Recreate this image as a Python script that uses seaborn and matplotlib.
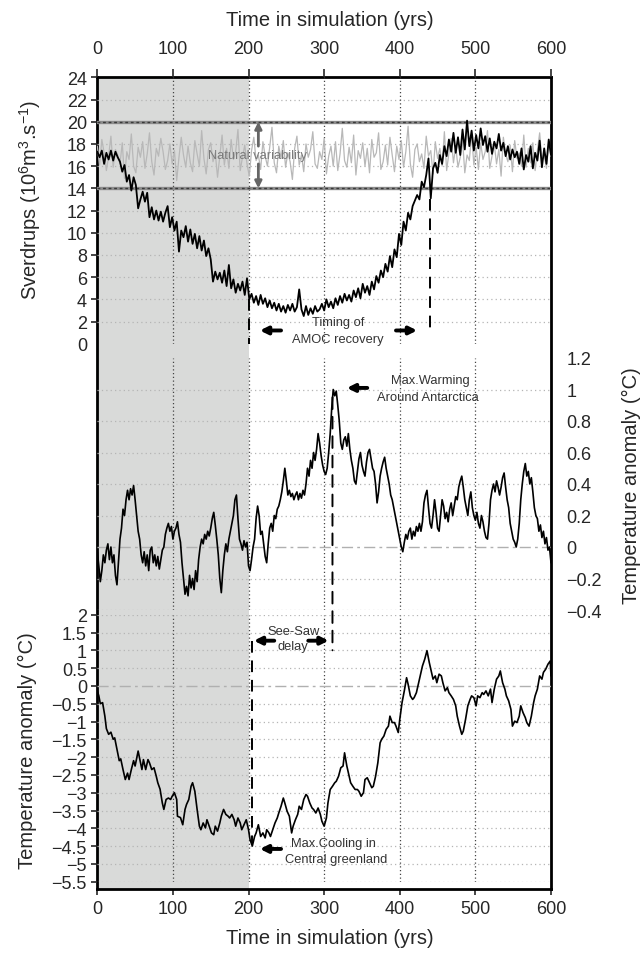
import numpy as np
import pandas as pd
import matplotlib
matplotlib.use("Agg")
import matplotlib.pyplot as plt
import seaborn as sns
from matplotlib.patches import ConnectionPatch

sns.set_style("white")
plt.rcParams['font.family'] = ['Liberation Sans', 'DejaVu Sans']
plt.rcParams['mathtext.default'] = 'regular'

# ---------------- data ----------------
x_ticks = [0, 100, 200, 300, 400, 500, 600]
grid_x = [100, 200, 300, 400, 500]

sv_ticks = [0, 2, 4, 6, 8, 10, 12, 14, 16, 18, 20, 22, 24]
ant_ticks = [-0.4, -0.2, 0, 0.2, 0.4, 0.6, 0.8, 1.0, 1.2]
ant_labels = ['\u22120.4', '\u22120.2', '0', '0.2', '0.4', '0.6', '0.8', '1', '1.2']
gr_ticks = [2, 1.5, 1, 0.5, 0, -0.5, -1, -1.5, -2, -2.5, -3, -3.5, -4, -4.5, -5, -5.5]
gr_labels = ['2', '1.5', '1', '0.5', '0', '\u22120.5', '\u22121', '\u22121.5', '\u22122', '\u22122.5',
             '\u22123', '\u22123.5', '\u22124', '\u22124.5', '\u22125', '\u22125.5']

amoc_years = np.arange(0, 601, 3)
amoc_forced = [
    17.3, 16.8, 17.4, 16.2, 17.2, 16.6, 17.4, 16.5, 17.3, 16.8,
    16.4, 15.5, 16.1, 14.6, 15.2, 13.8, 15.0, 14.3, 12.2, 13.0,
    13.7, 12.8, 13.6, 11.4, 12.3, 11.2, 12.0, 11.1, 11.9, 11.0,
    11.8, 12.4, 10.5, 11.4, 10.2, 11.0, 8.3, 10.2, 9.6, 10.6,
    9.2, 10.3, 9.0, 9.9, 8.6, 9.7, 8.4, 9.3, 7.9, 8.6,
    7.6, 5.6, 6.5, 5.8, 6.4, 5.5, 6.6, 5.2, 7.1, 5.0,
    5.8, 4.6, 5.4, 4.8, 5.6, 4.4, 5.9, 4.0, 4.5, 3.7,
    4.3, 3.5, 4.4, 3.6, 4.1, 3.3, 3.9, 3.2, 3.7, 3.0,
    3.6, 2.9, 3.4, 2.8, 3.5, 3.0, 3.6, 2.9, 3.3, 4.9,
    3.1, 2.5, 3.4, 2.6, 3.2, 2.7, 3.4, 2.9, 3.1, 3.6,
    3.0, 4.0, 3.3, 3.8, 3.2, 4.1, 3.5, 4.3, 3.7, 4.5,
    3.9, 4.4, 3.8, 4.8, 4.2, 5.0, 4.1, 5.4, 4.6, 5.2,
    4.4, 5.6, 4.9, 6.1, 5.5, 6.6, 6.0, 7.2, 6.5, 7.9,
    6.9, 8.5, 7.8, 9.9, 8.9, 11.0, 10.2, 11.8, 11.2, 12.4,
    12.9, 13.4, 13.0, 14.6, 14.1, 15.2, 16.7, 13.1, 15.8, 16.3,
    15.4, 17.0, 16.2, 17.8, 16.9, 18.4, 17.3, 19.0, 17.2, 18.6,
    17.0, 19.3, 17.5, 20.1, 17.8, 19.2, 17.4, 18.8, 17.6, 19.4,
    17.9, 18.7, 17.3, 18.5, 17.1, 18.2, 17.6, 18.9, 17.4, 18.1,
    16.9, 17.8, 16.6, 17.5, 16.8, 17.3, 16.2, 17.6, 15.7, 17.0,
    16.4, 17.8, 15.8, 17.2, 16.5, 18.3, 15.9, 17.6, 16.2, 18.4,
    17.0,
]
amoc_control = [
    17.8, 16.1, 18.4, 17.2, 15.6, 16.9, 18.7, 15.9, 17.5, 17.0,
    16.2, 18.1, 14.9, 17.3, 16.6, 18.9, 16.0, 15.4, 17.7, 16.8,
    18.2, 15.8, 17.1, 19.0, 16.4, 15.2, 17.6, 16.9, 18.5, 17.3,
    15.7, 16.5, 18.0, 16.2, 17.4, 14.7, 16.8, 18.6, 17.0, 15.9,
    17.8, 16.3, 15.5, 18.3, 17.1, 16.0, 19.2, 16.7, 15.3, 17.5,
    18.1, 16.4, 17.2, 15.0, 16.9, 18.8, 16.1, 17.6, 15.8, 18.4,
    16.6, 17.3, 19.3, 15.6, 16.8, 17.9, 16.2, 15.1, 17.4, 18.6,
    16.5, 17.0, 15.7, 18.2, 16.9, 16.0, 17.7, 19.5, 16.3, 15.4,
    17.8, 16.7, 18.3, 15.9, 17.2, 16.4, 14.8, 17.6, 18.7, 16.1,
    17.0, 15.5, 18.0, 16.8, 17.5, 19.1, 16.2, 15.8, 17.3, 16.6,
    18.5, 15.3, 16.9, 17.8, 16.0, 18.2, 15.6, 17.1, 19.4, 16.5,
    15.9, 17.7, 16.3, 18.8, 15.2, 17.4, 16.7, 18.1, 16.0, 17.6,
    15.4, 18.4, 16.8, 17.2, 19.0, 15.7, 16.4, 17.9, 16.1, 18.6,
    17.0, 15.5, 17.8, 16.6, 18.3, 15.9, 17.3, 19.6, 16.2, 15.0,
    17.5, 18.0, 16.4, 17.1, 15.8, 18.7, 16.9, 17.4, 15.3, 18.2,
    16.7, 17.6, 16.0, 19.1, 15.6, 17.2, 18.5, 16.3, 17.8, 15.9,
    16.8, 18.4, 15.4, 17.0, 16.5, 18.9, 16.1, 17.7, 15.7, 18.1,
    16.6, 17.3, 19.2, 15.8, 16.9, 18.0, 16.2, 17.5, 15.1, 18.6,
    17.1, 16.4, 17.9, 15.5, 18.3, 16.7, 17.2, 16.0, 18.8, 15.9,
    17.6, 16.3, 18.1, 15.6, 17.4, 19.0, 16.5, 17.0, 15.8, 18.2,
    16.9,
]
variability_bounds = [14, 20]

ant_years = np.arange(0, 601, 2)
antarctic_temp = [
    -0.03, -0.12, -0.22, -0.15, -0.05, -0.10, -0.02, 0.02, -0.08, 0.00,
    -0.10, -0.05, -0.18, -0.24, -0.10, 0.05, 0.12, 0.24, 0.20, 0.30,
    0.36, 0.30, 0.37, 0.33, 0.39, 0.30, 0.20, 0.10, 0.05, -0.05,
    -0.10, -0.03, -0.12, -0.05, -0.15, -0.02, 0.00, -0.10, -0.05, -0.12,
    -0.06, -0.14, -0.08, -0.02, 0.00, 0.08, 0.12, 0.15, 0.10, 0.13,
    0.05, 0.10, 0.12, 0.16, 0.08, 0.03, -0.10, -0.20, -0.30, -0.25,
    -0.31, -0.18, -0.26, -0.20, -0.27, -0.15, -0.22, -0.08, 0.00, 0.05,
    0.02, 0.08, 0.05, 0.10, 0.07, 0.12, 0.18, 0.22, 0.14, 0.05,
    -0.05, -0.20, -0.29, -0.15, -0.05, 0.02, -0.03, 0.05, 0.10, 0.15,
    0.20, 0.30, 0.33, 0.18, 0.05, 0.02, -0.02, 0.04, 0.00, 0.03,
    -0.12, -0.15, -0.08, 0.00, 0.05, 0.18, 0.26, 0.20, 0.08, 0.10,
    0.02, -0.06, -0.10, 0.02, 0.12, 0.15, 0.10, 0.20, 0.18, 0.24,
    0.26, 0.30, 0.35, 0.42, 0.50, 0.42, 0.33, 0.36, 0.32, 0.34,
    0.30, 0.33, 0.35, 0.30, 0.34, 0.31, 0.36, 0.33, 0.40, 0.50,
    0.45, 0.55, 0.50, 0.60, 0.55, 0.62, 0.72, 0.66, 0.58, 0.52,
    0.48, 0.46, 0.50, 0.60, 0.72, 0.88, 1.00, 0.96, 0.99, 0.90,
    0.80, 0.66, 0.62, 0.68, 0.70, 0.64, 0.72, 0.62, 0.55, 0.50,
    0.42, 0.40, 0.48, 0.56, 0.60, 0.52, 0.48, 0.45, 0.54, 0.60,
    0.62, 0.56, 0.50, 0.48, 0.40, 0.28, 0.35, 0.45, 0.50, 0.54,
    0.57, 0.50, 0.45, 0.40, 0.33, 0.30, 0.25, 0.20, 0.15, 0.10,
    0.05, 0.00, -0.03, 0.03, 0.08, 0.05, 0.10, 0.12, 0.05, 0.10,
    0.07, 0.13, 0.10, 0.15, 0.10, 0.16, 0.28, 0.33, 0.36, 0.25,
    0.15, 0.12, 0.20, 0.30, 0.22, 0.12, 0.10, 0.20, 0.30, 0.26,
    0.18, 0.22, 0.16, 0.24, 0.28, 0.20, 0.26, 0.32, 0.30, 0.38,
    0.42, 0.45, 0.38, 0.30, 0.25, 0.20, 0.30, 0.35, 0.25, 0.20,
    0.17, 0.22, 0.15, 0.12, 0.20, 0.16, 0.10, 0.06, 0.05, 0.15,
    0.30, 0.36, 0.40, 0.35, 0.42, 0.38, 0.33, 0.38, 0.44, 0.47,
    0.38, 0.30, 0.25, 0.15, 0.10, 0.05, 0.03, 0.00, 0.05, 0.15,
    0.30, 0.40, 0.48, 0.53, 0.45, 0.48, 0.40, 0.44, 0.35, 0.25,
    0.20, 0.18, 0.10, 0.14, 0.06, 0.10, 0.02, 0.06, -0.02, 0.00,
    -0.10,
]

gr_years = [0, 2, 4, 7, 10, 12, 15, 18, 21, 23, 26, 29, 31, 34, 37, 40, 42, 45, 48, 50,
            54, 59, 61, 64, 67, 69, 72, 75, 78, 80, 83, 86, 88, 91, 94, 97, 99, 102, 105, 106,
            110, 113, 116, 118, 121, 124, 126, 129, 132, 135, 137, 140, 143, 145, 148, 151, 154, 156, 159, 162,
            164, 167, 170, 173, 175, 178, 181, 183, 186, 189, 191, 194, 197, 200, 202, 205, 208, 210, 213, 216,
            219, 222, 224, 227, 229, 232, 235, 238, 240, 243, 246, 248, 251, 254, 257, 259, 262, 265, 267, 270,
            273, 276, 278, 281, 284, 286, 289, 292, 295, 297, 300, 303, 305, 308, 311, 314, 316, 319, 322, 325,
            327, 330, 333, 335, 338, 341, 344, 346, 349, 352, 354, 357, 360, 363, 365, 368, 371, 374, 376, 379,
            382, 385, 387, 390, 393, 395, 398, 400, 403, 406, 409, 411, 414, 417, 419, 422, 425, 428, 430, 433,
            436, 439, 441, 444, 447, 449, 452, 455, 457, 460, 463, 465, 468, 471, 474, 476, 479, 482, 484, 487,
            490, 493, 495, 498, 501, 503, 506, 509, 511, 514, 517, 520, 522, 525, 528, 531, 533, 536, 539, 541,
            544, 547, 549, 552, 555, 558, 560, 563, 566, 568, 571, 574, 577, 579, 582, 585, 588, 590, 593, 596,
            599, 600]
greenland_temp = [-0.14, -0.28, -0.50, -0.47, -0.85, -1.20, -1.36, -1.30, -1.50, -1.46, -1.78, -2.10, -2.05, -2.35, -2.63, -2.45, -2.63, -2.35, -2.10, -2.25,
                  -1.83, -2.35, -2.07, -2.35, -2.07, -2.16, -2.35, -2.30, -2.54, -2.72, -2.90, -3.29, -3.47, -3.19, -3.15, -3.19, -3.10, -3.00, -3.19, -3.66,
                  -3.70, -3.90, -3.47, -3.33, -3.19, -2.82, -2.72, -2.96, -3.47, -3.94, -4.04, -3.85, -3.99, -3.76, -3.94, -4.13, -4.18, -3.94, -4.08, -3.85,
                  -3.66, -3.47, -3.61, -3.66, -3.71, -3.61, -3.76, -3.94, -3.71, -3.85, -4.04, -3.90, -3.76, -4.04, -4.32, -4.50, -4.23, -4.13, -3.90, -4.23,
                  -4.13, -4.27, -4.04, -4.13, -4.23, -4.04, -3.85, -3.71, -3.57, -3.38, -3.15, -3.29, -3.52, -3.66, -4.13, -3.94, -3.76, -3.61, -3.38, -3.47,
                  -3.19, -3.05, -3.10, -3.29, -3.43, -3.47, -3.57, -3.43, -3.61, -3.80, -3.94, -3.71, -3.29, -2.91, -2.82, -2.72, -2.68, -2.54, -2.30, -2.25,
                  -1.88, -2.25, -2.54, -2.72, -2.82, -2.91, -2.91, -2.96, -3.10, -3.00, -2.63, -2.58, -2.72, -2.86, -2.82, -2.54, -2.16, -1.60, -1.50, -1.41,
                  -1.22, -1.13, -0.85, -1.03, -1.03, -1.13, -1.31, -0.94, -0.47, -0.14, 0.23, 0.05, -0.28, -0.38, -0.33, -0.19, 0.09, 0.38, 0.56, 0.75,
                  0.99, 0.66, 0.47, 0.19, 0.28, 0.09, 0.33, 0.28, 0.09, -0.14, -0.05, -0.19, -0.28, -0.38, -0.56, -0.85, -1.13, -1.36, -1.27, -0.94,
                  -0.56, -0.38, -0.28, -0.33, -0.56, -0.28, -0.33, -0.19, -0.24, -0.14, -0.28, -0.09, -0.47, -0.09, 0.19, 0.28, 0.42, 0.09, -0.09, -0.28,
                  -0.42, -0.66, -1.13, -0.99, -1.03, -0.85, -0.56, -0.75, -0.89, -1.03, -1.13, -0.85, -0.47, -0.28, -0.09, 0.28, 0.19, 0.38, 0.47, 0.61,
                  0.70, 0.28]

# ---------------- figure ----------------
W_PX, H_PX = 642, 954
fig = plt.figure(figsize=(W_PX / 100, H_PX / 100), dpi=100)

def fy(px):
    return 1 - px / H_PX

LEFT = 97.3 / W_PX
WIDTH = (551 - 97.3) / W_PX
FRAME_TOP, FRAME_BOT = 78.3, 890

TICK_FS = 13
LABEL_FS = 14.5
ANN_FS = 9.3
GRID_H = dict(color='#b5b5b5', lw=0.9, ls=(0, (1, 2.5)))
GRID_V = dict(color='#444444', lw=0.9, ls=(0, (1, 2)))
ZERO = dict(color='#b0b0b0', lw=1.0, ls=(0, (8, 3, 2, 3)))
VDASH = dict(color='black', lw=1.4, ls=(0, (6, 4)))
ARROW = dict(arrowstyle='-|>', color='black', lw=2.8, mutation_scale=11, shrinkA=0, shrinkB=0)

# frame axes (shading, outer spines, x ticks)
ax_f = fig.add_axes([LEFT, fy(FRAME_BOT), WIDTH, fy(FRAME_TOP) - fy(FRAME_BOT)])
ax_f.set_xlim(0, 600)
ax_f.set_ylim(0, 1)
ax_f.axvspan(0, 200, color='#d9dad9', lw=0)
ax_f.set_yticks([])
ax_f.set_xticks(x_ticks)
ax_f.set_xticklabels([str(v) for v in x_ticks])
ax_f.tick_params(axis='x', direction='out', bottom=True, length=4, width=1.2, pad=4, labelsize=TICK_FS)
for s in ax_f.spines.values():
    s.set_linewidth(2.0)
    s.set_color('black')

ax_tx = ax_f.twiny()
ax_tx.set_xlim(0, 600)
ax_tx.set_xticks(x_ticks)
ax_tx.set_xticklabels([str(v) for v in x_ticks])
ax_tx.tick_params(axis='x', direction='out', top=True, length=6, width=1.2, pad=8.5, labelsize=TICK_FS)
for s in ax_tx.spines.values():
    s.set_visible(False)


def data_ax(top_px, bot_px, ylim):
    ax = fig.add_axes([LEFT, fy(bot_px), WIDTH, fy(top_px) - fy(bot_px)])
    ax.patch.set_alpha(0)
    for s in ax.spines.values():
        s.set_visible(False)
    ax.set_xlim(0, 600)
    ax.set_ylim(*ylim)
    ax.set_xticks([])
    for gx in grid_x:
        ax.axvline(gx, zorder=0.5, **GRID_V)
    ax.set_xlabel('')
    ax.set_ylabel('')
    return ax


# ---- top: AMOC ----
ax_top = data_ax(78.3, 344.8, (0, 24))
for v in sv_ticks[1:-1]:
    ax_top.axhline(v, zorder=0.4, **GRID_H)
for b in variability_bounds:
    ax_top.axhline(b, color='#8c8c8c', lw=2.4, zorder=0.6)
    ax_top.axhline(b, color='#3a3a3a', lw=1.0, ls=(0, (2, 2)), zorder=0.7)
sns.lineplot(x=amoc_years, y=amoc_control, ax=ax_top, color='#b8b8b8', lw=0.9, zorder=1)
sns.lineplot(x=amoc_years, y=amoc_forced, ax=ax_top, color='black', lw=1.3, zorder=2)
ax_top.set_yticks(sv_ticks)
ax_top.set_yticklabels([str(v) for v in sv_ticks])
ax_top.tick_params(axis='y', left=True, direction='out', length=4, width=1.2, pad=3.5, labelsize=TICK_FS)
ax_top.yaxis.get_major_ticks()[0].tick1line.set_visible(False)
ax_top.set_xlabel('')
ax_top.set_ylabel('')

ax_top.text(212, 17.0, 'Natural variability', ha='center', va='center', fontsize=ANN_FS, color='#7a7a7a', zorder=3)
gray_arrow = dict(arrowstyle='-|>', color='#666666', lw=2.0, mutation_scale=10, shrinkA=0, shrinkB=0)
ax_top.annotate('', xy=(213, 20), xytext=(213, 17.8), arrowprops=gray_arrow, zorder=3)
ax_top.annotate('', xy=(213, 14), xytext=(213, 16.2), arrowprops=gray_arrow, zorder=3)

ax_top.plot([440, 440], [13, 1], zorder=3, **VDASH)
ax_top.plot([200, 200], [4, 0], zorder=3, **VDASH)
ax_top.text(318, 2.0, 'Timing of', ha='center', va='center', fontsize=ANN_FS, color='#333333')
ax_top.text(318, 0.45, 'AMOC recovery', ha='center', va='center', fontsize=ANN_FS, color='#333333')
ax_top.annotate('', xy=(215, 1.2), xytext=(243, 1.2), arrowprops=ARROW)
ax_top.annotate('', xy=(423, 1.2), xytext=(395, 1.2), arrowprops=ARROW)

# ---- middle: Antarctica ----
ax_mid = data_ax(359, 611, (-0.4, 1.2))
for v in ant_ticks[:-1]:
    if v != 0:
        ax_mid.axhline(v, zorder=0.4, **GRID_H)
ax_mid.axhline(0, zorder=0.6, **ZERO)
sns.lineplot(x=ant_years, y=antarctic_temp, ax=ax_mid, color='black', lw=1.2, zorder=2)
ax_mid.yaxis.tick_right()
ax_mid.set_yticks(ant_ticks)
ax_mid.set_yticklabels(ant_labels)
ax_mid.tick_params(axis='y', right=True, left=False, length=0, pad=11, labelsize=TICK_FS)
ax_mid.set_xlabel('')
ax_mid.set_ylabel('')
ax_mid.text(441, 1.06, 'Max.Warming', ha='center', va='center', fontsize=ANN_FS, color='#333333')
ax_mid.text(437, 0.95, 'Around Antarctica', ha='center', va='center', fontsize=ANN_FS, color='#333333')
ax_mid.annotate('', xy=(330, 1.01), xytext=(357, 1.01), arrowprops=ARROW)

# ---- bottom: Greenland ----
ax_bot = data_ax(615.7, 882.7, (-5.5, 2))
for v in gr_ticks:
    if v != 0:
        ax_bot.axhline(v, zorder=0.4, **GRID_H)
ax_bot.axhline(0, zorder=0.6, **ZERO)
sns.lineplot(x=gr_years, y=greenland_temp, ax=ax_bot, color='black', lw=1.2, zorder=2)
ax_bot.set_yticks(gr_ticks)
ax_bot.set_yticklabels(gr_labels)
ax_bot.tick_params(axis='y', left=True, direction='out', length=4, width=1.2, pad=3.5, labelsize=TICK_FS)
ax_bot.set_xlabel('')
ax_bot.set_ylabel('')
ax_bot.plot([204, 204], [1.27, -4.4], zorder=3, **VDASH)
ax_bot.text(260, 1.55, 'See-Saw', ha='center', va='center', fontsize=ANN_FS, color='#333333')
ax_bot.text(259, 1.12, 'delay', ha='center', va='center', fontsize=ANN_FS, color='#333333')
ax_bot.annotate('', xy=(207, 1.27), xytext=(234, 1.27), arrowprops=ARROW)
ax_bot.annotate('', xy=(306, 1.27), xytext=(279, 1.27), arrowprops=ARROW)
ax_bot.annotate('', xy=(215, -4.58), xytext=(243, -4.58), arrowprops=ARROW)
ax_bot.text(312, -4.41, 'Max.Cooling in', ha='center', va='center', fontsize=ANN_FS, color='#333333')
ax_bot.text(316, -4.86, 'Central greenland', ha='center', va='center', fontsize=ANN_FS, color='#333333')

# see-saw dashed link from Antarctic peak to Greenland panel
con = ConnectionPatch(xyA=(311, 0.95), coordsA=ax_mid.transData,
                      xyB=(311, 1.0), coordsB=ax_bot.transData, zorder=3, **VDASH)
fig.add_artist(con)

# ---- axis labels ----
fig.text(330 / W_PX, fy(21), 'Time in simulation (yrs)', ha='center', va='center', fontsize=LABEL_FS)
fig.text(330 / W_PX, fy(939), 'Time in simulation (yrs)', ha='center', va='center', fontsize=LABEL_FS)
fig.text(30 / W_PX, fy(200), 'Sverdrups (10$^{6}$m$^{3}$.s$^{-1}$)', rotation=90,
         ha='center', va='center', fontsize=LABEL_FS)
fig.text(27 / W_PX, fy(751), 'Temperature anomaly (\u00b0C)', rotation=90,
         ha='center', va='center', fontsize=LABEL_FS)
fig.text(631 / W_PX, fy(486), 'Temperature anomaly (\u00b0C)', rotation=90,
         ha='center', va='center', fontsize=LABEL_FS)

fig.savefig('out.png', dpi=100)
